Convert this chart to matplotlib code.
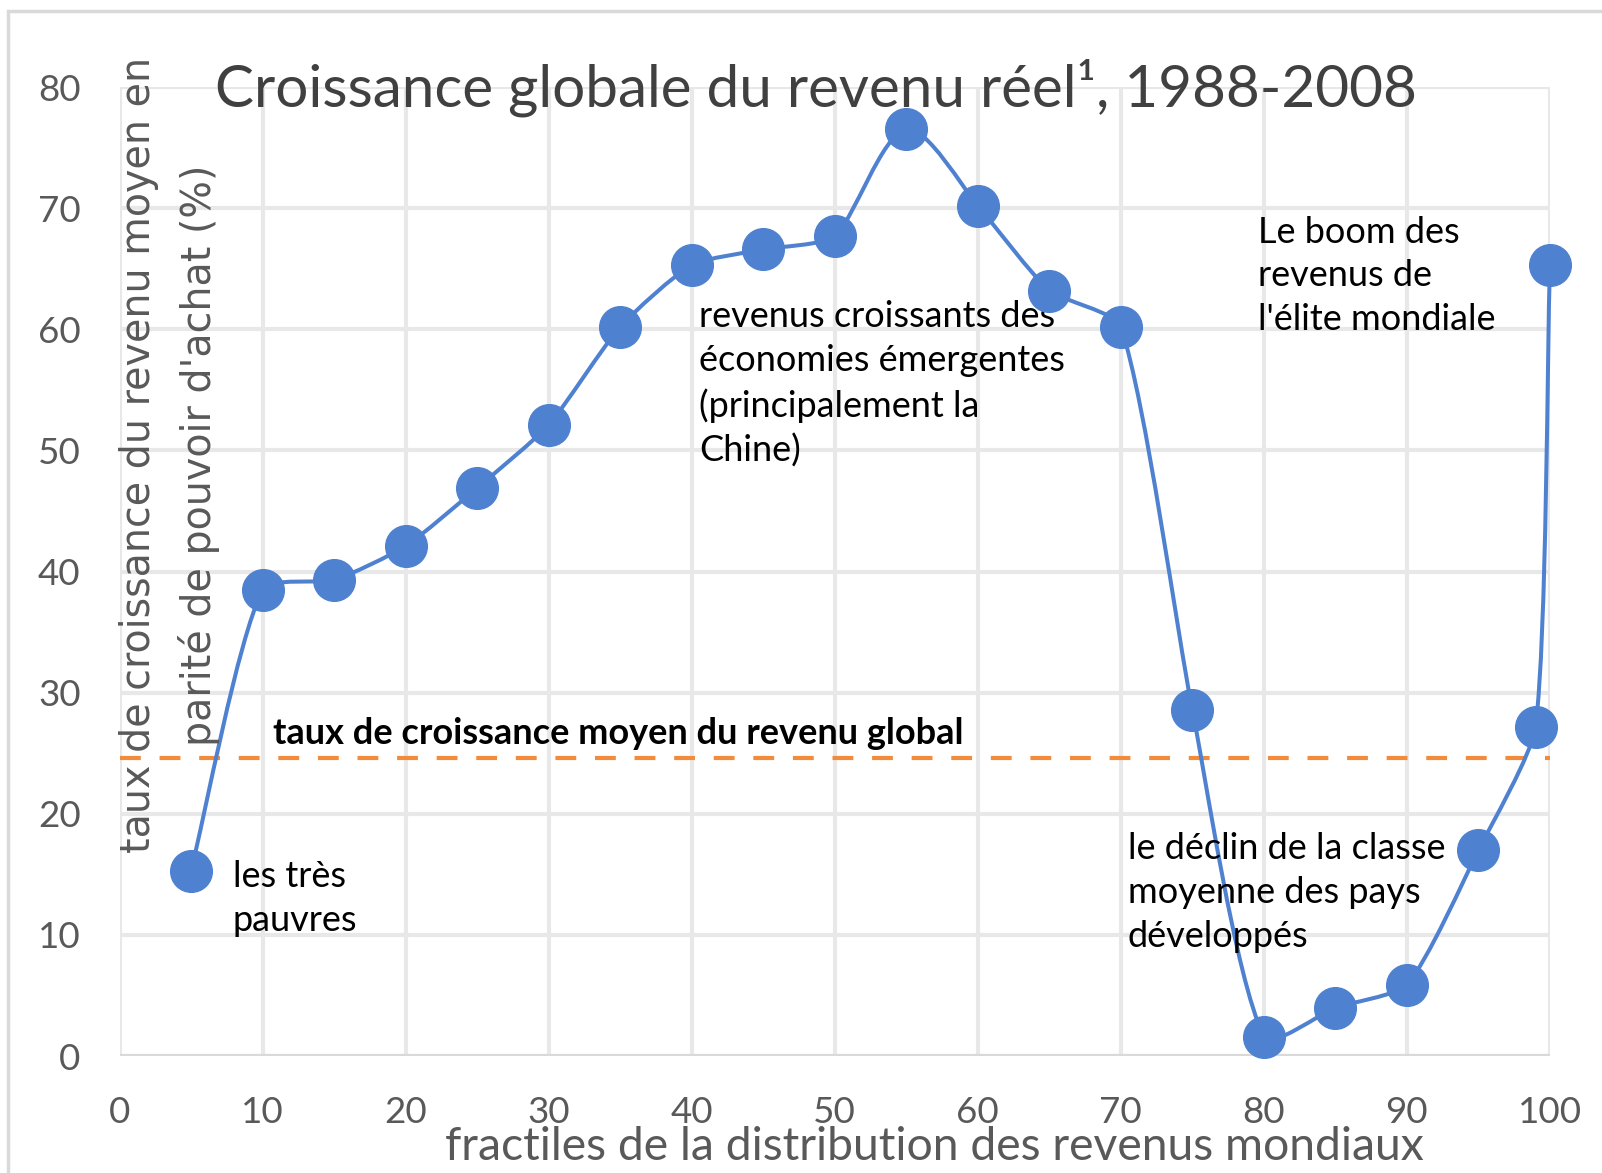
import numpy as np
import matplotlib.pyplot as plt
from matplotlib.path import Path
from matplotlib.patches import PathPatch, Rectangle

# fractiles of world income distribution and real income growth 1988-2008 (%)
fractiles = [5, 10, 15, 20, 25, 30, 35, 40, 45, 50, 55, 60, 65, 70, 75, 80, 85, 90, 95, 99, 100]
growth = [15.3, 38.5, 39.3, 42.1, 46.9, 52.1, 60.2, 65.3, 66.6, 67.7, 76.5, 70.2, 63.2, 60.2,
          28.6, 1.6, 4.0, 5.9, 17.0, 27.2, 65.3]
mean_growth = 24.6

xticks = [0, 10, 20, 30, 40, 50, 60, 70, 80, 90, 100]
yticks = [0, 10, 20, 30, 40, 50, 60, 70, 80]

title = "Croissance globale du revenu réel¹, 1988-2008"
xlabel = "fractiles de la distribution des revenus mondiaux"
ylabel = "taux de croissance du revenu moyen en\nparité de pouvoir d'achat (%)"
mean_label = "taux de croissance moyen du revenu global"
notes = [
    (7.9, 13.0, "les très\npauvres"),
    (40.5, 55.5, "revenus croissants des\néconomies émergentes\n(principalement la\nChine)"),
    (79.6, 64.4, "Le boom des\nrevenus de\nl'élite mondiale"),
    (70.5, 13.5, "le déclin de la classe\nmoyenne des pays\ndéveloppés"),
]

blue = '#4F81D1'
orange = '#F28C3C'
grey = '#595959'
gridc = '#E8E8E8'
calibri = ['Lato', 'DejaVu Sans']

fig = plt.figure(figsize=(16.02, 11.73), dpi=100)
ax = fig.add_axes([0.0746, 0.0997, 0.8929, 0.8261])
ax.set_xlim(0, 100)
ax.set_ylim(0, 80)

# Excel-like "smoothed line": bezier segments, tangents worked out in screen space
bb = ax.get_window_extent()
sx, sy = bb.width / 100.0, bb.height / 80.0
P = np.column_stack([np.array(fractiles) * sx, np.array(growth) * sy])
n = len(P)
tang = []
for i in range(n):
    d = P[min(i + 1, n - 1)] - P[max(i - 1, 0)]
    tang.append(d / np.hypot(*d))
k = 0.2
verts = [tuple(P[0])]
codes = [Path.MOVETO]
for i in range(n - 1):
    L = np.hypot(*(P[i + 1] - P[i]))
    verts += [tuple(P[i] + tang[i] * L * k), tuple(P[i + 1] - tang[i + 1] * L * k), tuple(P[i + 1])]
    codes += [Path.CURVE4] * 3
verts = [(vx / sx, vy / sy) for vx, vy in verts]
ax.add_patch(PathPatch(Path(verts, codes), facecolor='none', edgecolor=blue, lw=2.9,
                       clip_on=False, zorder=3))
ax.plot(fractiles, growth, 'o', color=blue, markersize=30, clip_on=False, zorder=4)

ax.axhline(mean_growth, color=orange, lw=3, dashes=(5, 4.5), zorder=2)

ax.set_xticks(xticks)
ax.set_yticks(yticks)
for s in ax.spines.values():
    s.set_visible(False)
ax.grid(True, color=gridc, lw=3)
ax.axhline(0, color='#D9D9D9', lw=3, zorder=1)
ax.set_axisbelow(True)
ax.tick_params(length=0, labelsize=26.5, labelcolor=grey)
ax.tick_params(axis='y', pad=28)
ax.tick_params(axis='x', pad=29)
for lab in ax.get_xticklabels() + ax.get_yticklabels():
    lab.set_family(calibri)

fig.text(0.583, 0.011, xlabel, fontsize=33.3, color=grey,
         family=calibri, ha='center', va='baseline')
ax.text(0.035, 0.62, ylabel, transform=ax.transAxes, fontsize=28.5, color=grey,
        rotation=90, ha='center', va='center', rotation_mode='anchor',
        multialignment='center', linespacing=1.6)

fig.text(0.134, 0.909, title, fontsize=42, color='#404040', family=calibri, va='baseline')

ax.text(10.7, 26.6, mean_label, fontsize=26, fontweight='bold', color='black',
        family=calibri, va='center')
for x, y, t in notes:
    ax.text(x, y, t, fontsize=26, color='black', family=calibri, va='center',
            linespacing=1.4)

# light chart-area frame
fig.patches.append(Rectangle((8 / 1602, -0.1), 1.2, 1.1 - 11 / 1173,
                             transform=fig.transFigure, fill=False,
                             edgecolor='#D9D9D9', lw=2.5))

fig.savefig('out.png', dpi=100)
plt.close(fig)
